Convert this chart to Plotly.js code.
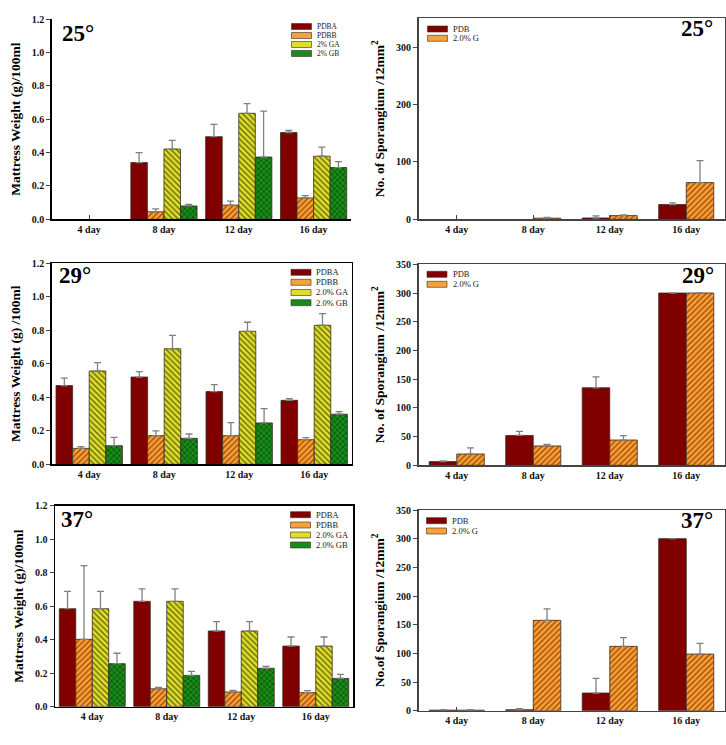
<!DOCTYPE html>
<html>
<head>
<meta charset="utf-8">
<script src="https://cdn.plot.ly/plotly-3.0.1.min.js"></script>
<style>html,body{margin:0;padding:0;background:#fff;}#chart{width:726px;height:745px;}</style>
</head>
<body>
<div id="chart"></div>
<script>
// ---------- DATA ----------
const days = ['4 day', '8 day', '12 day', '16 day'];

// Mattress weight panels (left column)
const wNames25 = ['PDBA', 'PDBB', '2% GA', '2% GB'];
const wNames = ['PDBA', 'PDBB', '2.0% GA', '2.0% GB'];

const w25_PDBA = [null, 0.34, 0.495, 0.52];
const w25_PDBA_err = [0, 0.06, 0.074, 0.012];
const w25_PDBB = [null, 0.045, 0.085, 0.128];
const w25_PDBB_err = [0, 0.017, 0.024, 0.014];
const w25_GA = [null, 0.421, 0.635, 0.378];
const w25_GA_err = [0, 0.052, 0.058, 0.054];
const w25_GB = [null, 0.08, 0.373, 0.31];
const w25_GB_err = [0, 0.01, 0.275, 0.035];

const w29_PDBA = [0.47, 0.521, 0.434, 0.382];
const w29_PDBA_err = [0.045, 0.032, 0.042, 0.01];
const w29_PDBB = [0.095, 0.171, 0.171, 0.147];
const w29_PDBB_err = [0.01, 0.028, 0.078, 0.012];
const w29_GA = [0.557, 0.69, 0.794, 0.83];
const w29_GA_err = [0.05, 0.08, 0.054, 0.07];
const w29_GB = [0.111, 0.155, 0.247, 0.299];
const w29_GB_err = [0.05, 0.026, 0.085, 0.016];

const w37_PDBA = [0.585, 0.629, 0.452, 0.362];
const w37_PDBA_err = [0.104, 0.074, 0.056, 0.054];
const w37_PDBB = [0.402, 0.107, 0.088, 0.084];
const w37_PDBB_err = [0.44, 0.008, 0.01, 0.012];
const w37_GA = [0.585, 0.629, 0.452, 0.362];
const w37_GA_err = [0.104, 0.074, 0.056, 0.054];
const w37_GB = [0.257, 0.187, 0.229, 0.169];
const w37_GB_err = [0.062, 0.024, 0.012, 0.024];

// Sporangium panels (right column)
const sNames = ['PDB', '2.0% G'];
const s25_PDB = [null, null, 2.3, 25.7];
const s25_PDB_err = [0, 0, 3.5, 3];
const s25_G = [null, 2, 6.4, 64];
const s25_G_err = [0, 1.5, 1.2, 38];

const s29_PDB = [6.4, 52, 135, 300];
const s29_PDB_err = [1.2, 7, 19, 0];
const s29_G = [19.7, 33.7, 44, 300];
const s29_G_err = [10.5, 2.9, 7.6, 0];

const s37_PDB = [1, 1.7, 30.8, 300];
const s37_PDB_err = [1, 1.8, 25.6, 0];
const s37_G = [1, 157.6, 112.2, 98.8];
const s37_G_err = [1, 19.8, 15.1, 18.6];

const tempLabels = ['25°', '29°', '37°'];
const yTitleW = ['Mattress Weight (g)/100ml', 'Mattress Weight (g) /100ml', 'Mattress Weight (g)/100ml'];
const yTitleS = ['No. of Sporangium /12mm<sup>2</sup>', 'No. of Sporangium /12mm<sup>2</sup>', 'No.of Sporangium /12mm<sup>2</sup>'];

// ---------- STYLE ----------
const FONT = 'Liberation Serif, Times New Roman, serif';
const W = 726, H = 745;
const styles = {
  PDBA: {color: '#800000'},
  PDBB: {color: '#f29a35', pattern: {shape: '/', fgcolor: '#a84a00', bgcolor: '#f5a23c', size: 4, solidity: 0.35}},
  GA:   {color: '#d4d420', pattern: {shape: '\\', fgcolor: '#6a6a00', bgcolor: '#dede30', size: 4, solidity: 0.35}},
  GB:   {color: '#137a13', pattern: {shape: 'x', fgcolor: '#004400', bgcolor: '#1a8a1a', size: 4, solidity: 0.3}},
};
const styleKeysW = ['PDBA', 'PDBB', 'GA', 'GB'];
const styleKeysS = ['PDBA', 'PDBB'];

function bar(name, y, err, key, xa, ya, extra) {
  const st = styles[key];
  const t = {
    type: 'bar', name: name, x: days, y: y, xaxis: xa, yaxis: ya, showlegend: false,
    marker: {color: st.color, line: {color: '#3a2a20', width: 0.8}},
    error_y: {type: 'data', array: err, arrayminus: err.map(() => 0), color: '#808080', thickness: 1.3, width: 3.5},
    hoverinfo: 'skip'
  };
  if (st.pattern) t.marker.pattern = st.pattern;
  return Object.assign(t, extra || {});
}

const traces = [];
const wSets = [
  [[w25_PDBA, w25_PDBA_err], [w25_PDBB, w25_PDBB_err], [w25_GA, w25_GA_err], [w25_GB, w25_GB_err]],
  [[w29_PDBA, w29_PDBA_err], [w29_PDBB, w29_PDBB_err], [w29_GA, w29_GA_err], [w29_GB, w29_GB_err]],
  [[w37_PDBA, w37_PDBA_err], [w37_PDBB, w37_PDBB_err], [w37_GA, w37_GA_err], [w37_GB, w37_GB_err]],
];
const sSets = [
  [[s25_PDB, s25_PDB_err], [s25_G, s25_G_err]],
  [[s29_PDB, s29_PDB_err], [s29_G, s29_G_err]],
  [[s37_PDB, s37_PDB_err], [s37_G, s37_G_err]],
];
const axisIdx = [[1, 2], [3, 4], [5, 6]];
for (let r = 0; r < 3; r++) {
  const [li, ri] = axisIdx[r];
  const names = r === 0 ? wNames25 : wNames;
  wSets[r].forEach((d, i) => traces.push(bar(names[i], d[0], d[1], styleKeysW[i], 'x' + li, 'y' + li)));
  sSets[r].forEach((d, i) => traces.push(bar(sNames[i], d[0], d[1], styleKeysS[i], 'x' + ri, 'y' + ri,
    {width: 0.36, offset: i === 0 ? -0.36 : 0})));
}

// panel geometry in pixels [left, right, top, bottom]
const panels = [
  [51.7, 351, 19, 219.3],
  [418.5, 724.5, 18.3, 219.3],
  [51.7, 351.7, 263.3, 464.3],
  [418.5, 724.5, 264.3, 465.3],
  [55, 353, 505.7, 706.7],
  [418.5, 724.5, 510, 710.7],
];
const px = v => v / W, py = v => 1 - v / H;

const layout = {
  width: W, height: H, margin: {l: 0, r: 0, t: 0, b: 0},
  paper_bgcolor: '#fff', plot_bgcolor: '#fff',
  barmode: 'group', bargap: 0.115, bargroupgap: 0,
  showlegend: false,
  font: {family: FONT, color: '#000'},
  shapes: [], annotations: []
};
const tickFont = {family: FONT, size: 10, weight: 'bold', color: '#111'};
panels.forEach((p, k) => {
  const n = k + 1;
  const isLeft = k % 2 === 0;
  const row = Math.floor(k / 2);
  layout['xaxis' + n] = {
    domain: [px(p[0]), px(p[1])], anchor: 'y' + n, type: 'category',
    showline: true, linecolor: isLeft ? '#000' : '#444', linewidth: 1.5,
    mirror: k === 0 ? false : true, ticks: 'inside', ticklen: 4, tickcolor: '#444',
    showgrid: false, zeroline: false, tickfont: tickFont, fixedrange: true
  };
  const ya = {
    domain: [py(p[3]), py(p[2])], anchor: 'x' + n,
    showline: true, linecolor: isLeft ? '#000' : '#444', linewidth: 1.5,
    mirror: k === 0 ? false : true, ticks: 'outside', ticklen: 4, tickcolor: '#444',
    showgrid: false, zeroline: false, tickfont: tickFont, fixedrange: true,
    title: {text: isLeft ? yTitleW[row] : yTitleS[row], font: {family: FONT, size: 13.5, weight: 'bold'}, standoff: 8}
  };
  if (isLeft) { ya.range = [0, 1.2]; ya.dtick = 0.2; ya.tick0 = 0; ya.tickformat = '.1f'; }
  else { ya.range = [0, 350]; ya.dtick = row === 0 ? 100 : 50; ya.tick0 = 0; }
  layout['yaxis' + n] = ya;
});

// temperature labels
const tempPos = [[60, 34], [679, 29], [57, 275], [680, 275], [59, 519], [679, 520]];
tempPos.forEach((p, k) => {
  layout.annotations.push({
    xref: 'paper', yref: 'paper', x: px(p[0]), y: py(p[1]), xanchor: 'left', yanchor: 'middle',
    text: tempLabels[Math.floor(k / 2)], showarrow: false,
    font: {family: FONT, size: 23, weight: 'bold', color: '#000'}
  });
});

// compact legends (swatch + label)
function legend(names, keys, swX, textX, rowsY, fs) {
  names.forEach((nm, i) => {
    const st = styles[keys[i]];
    layout.shapes.push({type: 'rect', xref: 'paper', yref: 'paper',
      x0: px(swX), x1: px(swX + 20), y0: py(rowsY[i] + 3), y1: py(rowsY[i] - 3),
      fillcolor: st.pattern ? st.pattern.bgcolor : st.color, line: {color: '#3a2a20', width: 0.6}});
    layout.annotations.push({xref: 'paper', yref: 'paper', x: px(textX), y: py(rowsY[i]),
      xanchor: 'left', yanchor: 'middle', text: nm, showarrow: false, borderpad: 0,
      valign: 'middle', font: {family: FONT, size: fs || 8.5, color: '#222'}});
  });
}
legend(wNames25, styleKeysW, 291.5, 315.5, [26.5, 35.5, 44.5, 53.5], 7.5);
legend(wNames, styleKeysW, 291, 315, [272.3, 282.3, 292.5, 302.7]);
legend(wNames, styleKeysW, 290.5, 315, [514.7, 525, 535, 545]);
legend(sNames, styleKeysS, 427.5, 451.5, [29, 38.3]);
legend(sNames, styleKeysS, 427, 451.5, [274.3, 284.3]);
legend(sNames, styleKeysS, 426.5, 451, [520.7, 531]);

Plotly.newPlot('chart', traces, layout, {staticPlot: true, displayModeBar: false});
</script>
</body>
</html>
